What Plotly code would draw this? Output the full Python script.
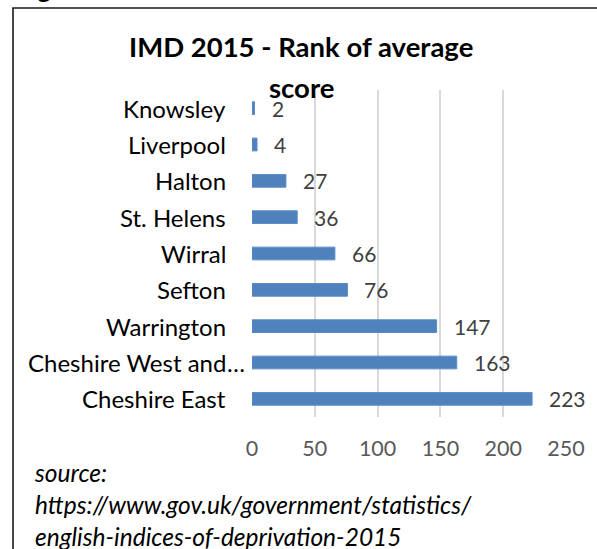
import plotly.graph_objects as go

categories = ["Knowsley", "Liverpool", "Halton", "St. Helens", "Wirral", "Sefton",
              "Warrington", "Cheshire West and…", "Cheshire East"]
ranks = [2, 4, 27, 36, 66, 76, 147, 163, 223]
x_ticks = [0, 50, 100, 150, 200, 250]

W, H = 597, 549
L, R, T, B = 252, 31, 90, 132
PW, PH = W - L - R, H - T - B


def px(x):
    return (x - L) / PW


def py(y):
    return (H - B - y) / PH


FONT = "Lato"
fig = go.Figure()
fig.add_trace(go.Bar(
    x=ranks, y=categories, orientation="h",
    marker=dict(color="#4F81BD", line=dict(color="#5B8CC8", width=1)),
    hoverinfo="x+y",
))

# value labels
for c, v in zip(categories, ranks):
    fig.add_annotation(x=v, y=c, xref="x", yref="y", text=str(v), showarrow=False,
                       xanchor="left", xshift=15, font=dict(family=FONT, size=21, color="#404040"))

# category labels (truncated ones overflow with their ellipsis, like Excel)
for c in categories:
    base = c[:-1] if c.endswith("…") else c
    fig.add_annotation(x=0, y=c, xref="x", yref="y", text=base, showarrow=False,
                       xanchor="right", xshift=-24, font=dict(family=FONT, size=24, color="#000000"))
    if c.endswith("…"):
        fig.add_annotation(x=0, y=c, xref="x", yref="y", text="…", showarrow=False,
                           xanchor="left", xshift=-27, font=dict(family=FONT, size=24, color="#000000"))

fig.add_annotation(x=px(301), y=py(46), xref="paper", yref="paper",
                   text="<b>IMD 2015 - Rank of average</b>", showarrow=False,
                   xanchor="center", yanchor="middle",
                   font=dict(family=FONT, size=27.5, color="#000000"))
fig.add_annotation(x=px(301), y=py(87), xref="paper", yref="paper",
                   text="<b>score</b>", showarrow=False,
                   xanchor="center", yanchor="middle",
                   font=dict(family=FONT, size=27.5, color="#000000"))

fig.add_annotation(x=px(32), y=py(456), xref="paper", yref="paper", align="left",
                   text="<i>source:<br>https://www.gov.uk/government/statistics/<br>english-indices-of-deprivation-2015</i>",
                   showarrow=False, xanchor="left", yanchor="top",
                   font=dict(family=FONT, size=24.5, color="#000000"))

fig.add_annotation(x=px(14), y=py(6), xref="paper", yref="paper",
                   text="<b>Figure 5</b>", showarrow=False, xanchor="left", yanchor="bottom",
                   font=dict(family=FONT, size=26, color="#000000"))

fig.add_shape(type="path", xref="paper", yref="paper",
              path=f"M {px(13)} {py(560)} L {px(13)} {py(8)} L {px(610)} {py(8)}",
              line=dict(color="#1a1a1a", width=1.6))

fig.update_layout(
    template="none",
    width=W, height=H,
    margin=dict(l=L, r=R, t=T, b=B, autoexpand=False),
    paper_bgcolor="white", plot_bgcolor="white",
    showlegend=False, bargap=0.65,
    xaxis=dict(range=[0, 250], tickvals=x_ticks, showgrid=True, gridcolor="#D9D9D9",
               gridwidth=1.5, zeroline=False, showline=False, ticks="outside", ticklen=0,
               ticklabelstandoff=12, automargin=False,
               tickfont=dict(family=FONT, size=21.5, color="#595959")),
    yaxis=dict(autorange="reversed", showgrid=False, zeroline=False, showline=False,
               showticklabels=False, automargin=False),
)

fig.write_html("out.html", config={"displayModeBar": False},
               post_script="document.body.style.margin='0px';")
